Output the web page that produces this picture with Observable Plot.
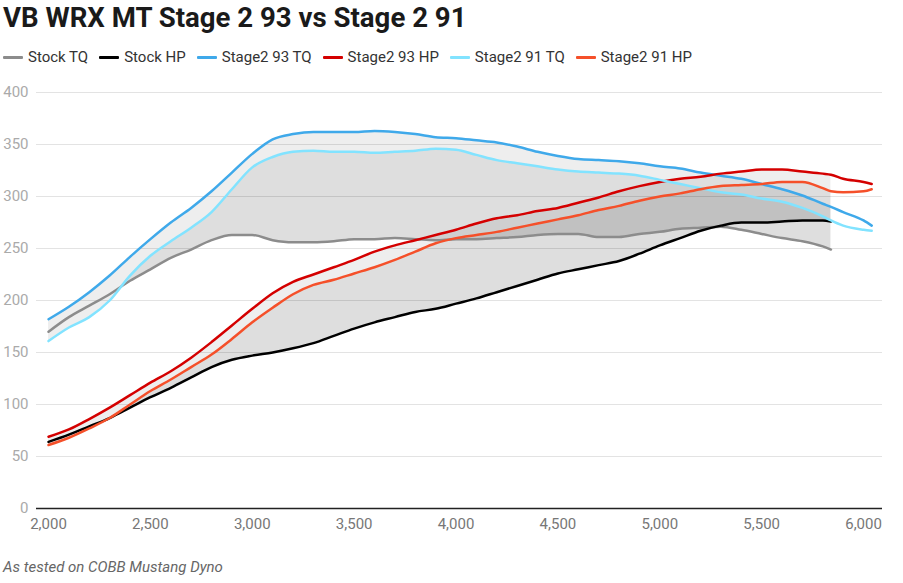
<!DOCTYPE html>
<html>
<head>
<meta charset="utf-8">
<script src="https://cdn.jsdelivr.net/npm/d3@7"></script>
<script src="https://cdn.jsdelivr.net/npm/@observablehq/plot@0.6"></script>
<style>
  html, body { margin: 0; padding: 0; background: #fff; }
  body { width: 903px; height: 583px; position: relative; overflow: hidden; font-family: Roboto, "Noto Sans", sans-serif; }
  #title { position: absolute; left: 3px; top: 2px; font-size: 27.6px; font-weight: 700; color: #1a1a1a; line-height: 32px; white-space: nowrap; }
  #legend { position: absolute; left: 3px; top: 47px; display: flex; align-items: center; font-size: 15px; color: #333; line-height: 20px; white-space: nowrap; }
  .item { display: flex; align-items: center; margin-right: 11px; }
  .sw { width: 20px; height: 3px; margin-right: 5px; border-radius: 1px; }
  #chart { position: absolute; left: 0; top: 80px; }
  #caption { position: absolute; left: 3px; top: 557px; font-size: 15px; font-style: italic; color: #666; line-height: 20px; white-space: nowrap; }
</style>
</head>
<body>
<div id="title">VB WRX MT Stage 2 93 vs Stage 2 91</div>
<div id="legend"></div>
<div id="chart"></div>
<div id="caption">As tested on COBB Mustang Dyno</div>
<script>
const rpm = [2000,2100,2200,2300,2400,2500,2600,2700,2800,2900,3000,3100,3200,3300,3400,3500,3600,3700,3800,3900,4000,4100,4200,4300,4400,4500,4600,4700,4800,4900,5000,5100,5200,5300,5400,5500,5600,5700,5800,5840,5900,6000,6040];

const stockTQ = [170,184,195,206,219,230,241,249,258,263,263,258,256,256,257,259,259,260,259,258,259,259,260,261,263,264,264,261,261,264,266,269,270,271,268,264,260,257,252,249];
const stockHP = [64,71,79,87,97,107,116,126,136,143,147,150,154,159,166,173,179,184,189,192,197,202,208,214,220,226,230,234,238,245,253,260,267,272,275,275,276,277,277,276];
const s93TQ = [182,194,208,224,242,259,275,289,305,323,341,355,360,362,362,362,363,362,360,357,356,354,352,348,343,339,336,335,334,332,329,327,323,320,317,312,307,301,293,290,285,277,272];
const s93HP = [69,76,86,97,109,121,132,145,160,176,192,207,218,225,232,239,247,253,258,263,268,274,279,282,286,289,294,299,305,310,314,317,319,322,324,326,326,324,322,321,317,314,312];
const s91TQ = [161,174,184,200,224,243,257,270,285,307,328,338,343,344,343,343,342,343,344,346,345,340,335,332,329,326,324,323,322,320,316,312,308,304,302,298,295,289,281,277,272,268,267];
const s91HP = [61,68,77,87,100,113,124,136,148,163,179,193,206,215,220,226,232,239,247,255,260,263,266,270,274,278,282,287,291,296,300,303,307,310,311,312,314,314,308,305,304,305,307];

const seriesNames = ["Stock TQ","Stock HP","Stage2 93 TQ","Stage2 93 HP","Stage2 91 TQ","Stage2 91 HP"];
const seriesColors = ["#8c8c8c","#000000","#3fa9ea","#d40000","#82e3ff","#f5502a"];
const seriesValues = [stockTQ, stockHP, s93TQ, s93HP, s91TQ, s91HP];

const xTicks = [2000,2500,3000,3500,4000,4500,5000,5500,6000];
const yTicks = [0,50,100,150,200,250,300,350,400];

// legend
const legend = document.getElementById("legend");
seriesNames.forEach((n, i) => {
  const it = document.createElement("div"); it.className = "item";
  const sw = document.createElement("div"); sw.className = "sw"; sw.style.background = seriesColors[i];
  const tx = document.createElement("span"); tx.textContent = n;
  it.appendChild(sw); it.appendChild(tx); legend.appendChild(it);
});

// table
const rows = rpm.map((r, i) => ({
  rpm: r,
  stockTQ: stockTQ[i], stockHP: stockHP[i],
  s93TQ: s93TQ[i], s93HP: s93HP[i], s91TQ: s91TQ[i], s91HP: s91HP[i]
}));
const stockRows = rows.filter(d => d.stockTQ !== undefined);

const lines = [];
seriesNames.forEach((n, k) => {
  rpm.forEach((r, i) => {
    const v = seriesValues[k][i];
    if (v !== undefined) lines.push({series: n, rpm: r, value: v});
  });
});

const curve = "monotone-x";
const areaStyle = {fill: "#000", fillOpacity: 0.065, curve};

const chart = Plot.plot({
  width: 903,
  height: 460,
  marginLeft: 36,
  marginRight: 21,
  marginTop: 12,
  marginBottom: 32,
  style: {fontFamily: "Roboto, sans-serif", fontSize: "15px", background: "transparent"},
  x: {domain: [1941, 6093]},
  y: {domain: [0, 400]},
  color: {domain: seriesNames, range: seriesColors},
  marks: [
    Plot.gridY(yTicks, {stroke: "#e3e3e3", strokeOpacity: 1, strokeWidth: 1}),
    Plot.areaY(stockRows, {x: "rpm", y1: "stockTQ", y2: "s93TQ", ...areaStyle}),
    Plot.areaY(stockRows, {x: "rpm", y1: "stockTQ", y2: "s91TQ", ...areaStyle}),
    Plot.areaY(stockRows, {x: "rpm", y1: "stockHP", y2: "s93HP", ...areaStyle}),
    Plot.areaY(stockRows, {x: "rpm", y1: "stockHP", y2: "s91HP", ...areaStyle}),
    Plot.ruleY([0], {stroke: "#222", strokeWidth: 1.5}),
    Plot.axisY(yTicks, {tickSize: 0, tickPadding: 8, fill: "#aaa", fontSize: 15, label: null}),
    Plot.axisX(xTicks, {tickSize: 0, tickPadding: 10, fill: "#777", fontSize: 15, tickFormat: d3.format(","), label: null}),
    Plot.line(lines, {x: "rpm", y: "value", z: "series", stroke: "series", strokeWidth: 2.5, curve})
  ]
});
document.getElementById("chart").appendChild(chart);
</script>
</body>
</html>
